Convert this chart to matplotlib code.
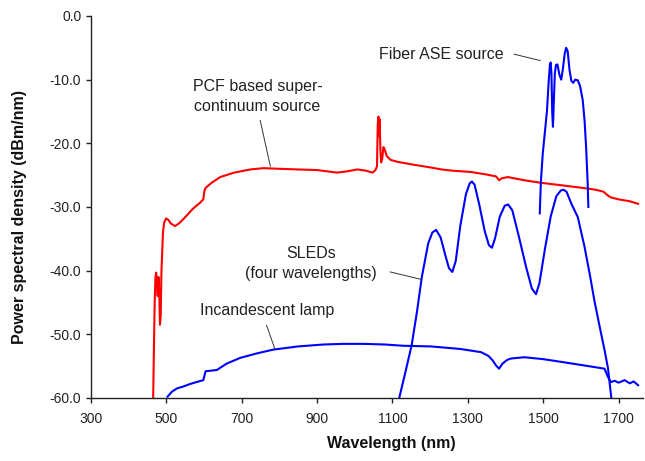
import matplotlib
matplotlib.use("Agg")
import matplotlib.pyplot as plt

plt.rcParams['font.family'] = ['Liberation Sans', 'DejaVu Sans']
plt.rcParams['axes.unicode_minus'] = False

# PCF based supercontinuum source (red)
pcf_wl = [465, 467, 469, 471, 473, 475, 477, 479, 481, 483, 485, 487, 489, 491, 494, 499,
          505, 512, 523, 535, 550, 570, 590, 598, 601, 604, 620, 643, 680, 723, 758, 800,
          847, 900, 953, 980, 1007, 1030, 1047, 1055, 1059, 1061, 1063, 1064, 1066, 1068,
          1070, 1073, 1076, 1079, 1085, 1095, 1113, 1150, 1202, 1230, 1260, 1308, 1350,
          1375, 1383, 1390, 1406, 1450, 1494, 1550, 1618, 1640, 1660, 1672, 1680, 1700,
          1730, 1752]
pcf_db = [-60, -52, -45, -41, -40.3, -42, -44, -41, -43, -48.5, -47, -40, -37, -34, -32.5, -31.8,
          -32.0, -32.6, -33.0, -32.5, -31.6, -30.3, -29.3, -28.8, -27.5, -27.0, -26.2, -25.3,
          -24.6, -24.1, -23.9, -24.0, -24.1, -24.2, -24.6, -24.4, -24.1, -24.3, -24.6, -24.2,
          -23.6, -17.0, -15.8, -19.0, -16.2, -21.0, -23.0, -22.4, -20.6, -20.9, -22.0, -22.6,
          -22.9, -23.3, -23.8, -24.1, -24.3, -24.5, -24.9, -25.2, -25.8, -25.5, -25.3, -25.8,
          -26.2, -26.6, -27.1, -27.3, -27.6, -28.2, -28.5, -28.8, -29.1, -29.5]

# Fiber ASE source (blue)
ase_wl = [1491, 1494, 1499, 1505, 1510, 1515, 1518, 1520, 1522, 1524, 1526, 1528, 1531, 1534,
          1538, 1543, 1548, 1552, 1557, 1561, 1565, 1570, 1575, 1580, 1585, 1592, 1598, 1605,
          1610, 1614, 1618, 1620]
ase_db = [-31.0, -26, -21.6, -18, -15, -10, -7.6, -7.3, -9, -15, -17.4, -14, -9, -7.7,
          -7.6, -9.2, -10.0, -8.5, -6, -5.0, -5.5, -8.5, -10.2, -10.5, -10.0, -10.1, -11, -13.2,
          -16.5, -20.6, -26, -30.0]

# SLEDs, four wavelengths (blue)
sled_wl = [1118, 1135, 1151, 1165, 1178, 1195, 1206, 1216, 1228, 1240, 1250, 1259, 1268, 1280,
           1295, 1305, 1311, 1318, 1330, 1345, 1356, 1364, 1372, 1385, 1398, 1407, 1418, 1435,
           1455, 1470, 1481, 1490, 1505, 1520, 1535, 1547, 1554, 1562, 1575, 1592, 1610, 1625,
           1636, 1650, 1663, 1672, 1681]
sled_db = [-60, -55.8, -51.7, -46.5, -41.0, -35.7, -34, -33.6, -34.8, -37.5, -39.6, -40.2, -38.5,
           -33, -28, -26.3, -26.0, -26.5, -29.5, -33.8, -36.0, -36.4, -35, -31.5, -29.8, -29.6,
           -30.5, -34.5, -39.5, -42.8, -43.7, -42, -36.5, -31.5, -28.3, -27.4, -27.3, -27.6,
           -29.5, -31.6, -36.3, -41, -44.7, -48.8, -52.5, -55.3, -60]

# Incandescent lamp (blue)
lamp_wl = [503, 515, 528, 545, 563, 580, 598, 601, 604, 620, 634, 660, 696, 740, 784, 850, 917,
           970, 1023, 1080, 1129, 1202, 1280, 1335, 1355, 1366, 1375, 1383, 1392, 1405, 1415,
           1450, 1500, 1556, 1610, 1663, 1672, 1680, 1690, 1700, 1716, 1730, 1740, 1752]
lamp_db = [-59.8, -59.0, -58.5, -58.2, -57.8, -57.5, -57.2, -56.5, -55.8, -55.7, -55.6, -54.6,
           -53.7, -53.0, -52.4, -51.9, -51.6, -51.5, -51.5, -51.6, -51.8, -51.9, -52.3, -52.8,
           -53.4, -54.1, -54.9, -55.4, -54.6, -54.0, -53.8, -53.6, -53.9, -54.4, -54.9, -55.4,
           -56.7, -57.5, -57.3, -57.6, -57.2, -57.7, -57.4, -58.0]

x_ticks = [300, 500, 700, 900, 1100, 1300, 1500, 1700]
y_ticks = [-60, -50, -40, -30, -20, -10, 0]

fig = plt.figure(figsize=(6.45, 4.61), dpi=100)
ax = fig.add_axes([0.1411, 0.1367, 0.8558, 0.8286])

red = '#FF0000'
blue = '#0000FF'
ax.plot(pcf_wl, pcf_db, color=red, lw=1.5, solid_joinstyle='round')
ax.plot(ase_wl, ase_db, color=blue, lw=1.5, solid_joinstyle='round')
ax.plot(sled_wl, sled_db, color=blue, lw=1.5, solid_joinstyle='round')
ax.plot(lamp_wl, lamp_db, color=blue, lw=1.5, solid_joinstyle='round')

ax.set_xlim(300, 1765)
ax.set_ylim(-60, 0)
ax.set_xticks(x_ticks)
ax.set_yticks(y_ticks)
ax.set_yticklabels([f"{v:.1f}" for v in y_ticks])
for s in ['top', 'right']:
    ax.spines[s].set_visible(False)
for s in ['left', 'bottom']:
    ax.spines[s].set_linewidth(1.0)
    ax.spines[s].set_color('#222222')
ax.tick_params(axis='both', direction='out', length=3.5, width=1.0, colors='#222222',
               labelsize=10, labelcolor='#222222')
ax.tick_params(axis='y', pad=3.5)
ax.tick_params(axis='x', pad=6.5)

ax.set_xlabel('Wavelength (nm)', fontsize=11.5, fontweight='bold', color='#111111')
ax.xaxis.set_label_coords(0.544, -0.100)
ax.set_ylabel('Power spectral density (dBm/nm)', fontsize=11.5, fontweight='bold', color='#111111')
ax.yaxis.set_label_coords(-0.116, 0.475)

tkw = dict(fontsize=11.5, color='#222222', ha='center', va='center')
ax.text(742, -12.6, 'PCF based super-\ncontinuum source', linespacing=1.45, **tkw)
ax.text(1229, -6.0, 'Fiber ASE source', **tkw)
ax.text(884, -38.9, 'SLEDs\n(four wavelengths)', linespacing=1.45, **tkw)
ax.text(768, -46.2, 'Incandescent lamp', **tkw)

lkw = dict(color='#333333', lw=0.7)
ax.plot([749, 776], [-16.4, -23.6], **lkw)
ax.plot([1423, 1492], [-6.0, -7.0], **lkw)
ax.plot([1094, 1178], [-40.2, -41.4], **lkw)
ax.plot([766, 788], [-48.6, -52.3], **lkw)

fig.savefig('out.png', dpi=100)
